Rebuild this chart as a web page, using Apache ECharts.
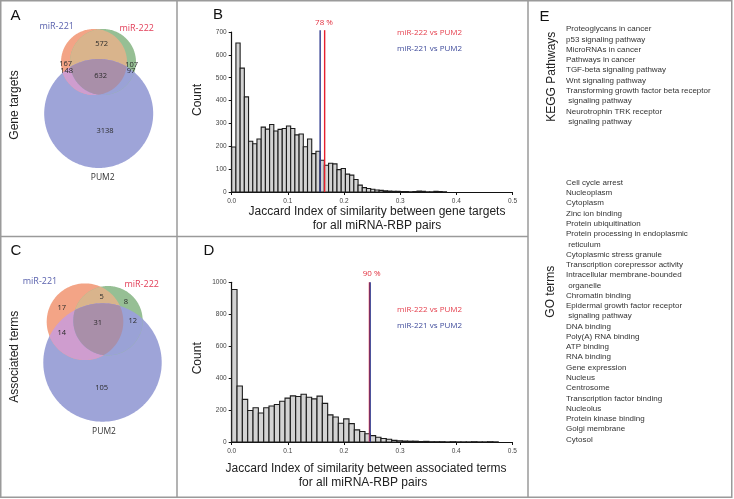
<!DOCTYPE html>
<html><head><meta charset="utf-8">
<script src="https://cdn.jsdelivr.net/npm/echarts@6/dist/echarts.min.js"></script>
<style>html,body{margin:0;padding:0;background:#fff}#c{width:734px;height:499px}</style>
</head><body><div id="c"></div>
<script>
// ---------------- DATA ----------------
const histXTicks = [0, 0.1, 0.2, 0.3, 0.4, 0.5];
const binWidthB = 0.0075;
const countsB = [197,652,542,416,222,211,232,284,275,295,267,274,278,289,278,250,254,198,232,168,178,139,117,126,123,98,103,78,74,55,30,19,15,12,9,7,5,4,3,3,2,2,1,2,4,3,1,1,3,2,1,0,0,0,0,0,0,0,0,0,0,0,0,0,0,0,0];
const binWidthD = 0.0095;
const countsD = [955,351,267,197,214,182,214,225,235,255,275,289,285,299,280,270,287,242,170,157,117,145,115,76,66,52,40,30,22,17,10,8,6,5,5,3,4,2,2,2,1,2,1,1,1,2,1,1,2,1,0,0,0];
const refLinesB = [0.1655, 0.1575];   // miR-222 vs PUM2, miR-221 vs PUM2
const refLinesD = [0.2455, 0.2467];
const pctB = '78 %';
const pctD = '90 %';
const legendNames = ['miR-222 vs PUM2', 'miR-221 vs PUM2'];
const yMaxB = 700, yMaxD = 1000;

const vennSetNames = ['miR-221', 'miR-222', 'PUM2'];
// regions: 221 only, 222 only, 221&222, 221&PUM2, 222&PUM2, all three, PUM2 only
const vennCountsA = [167, 107, 572, 148, 97, 632, 3138];
const vennCountsC = [17, 8, 5, 14, 12, 31, 105];

const keggTerms = ['Proteoglycans in cancer','p53 signaling pathway','MicroRNAs in cancer','Pathways in cancer','TGF-beta signaling pathway','Wnt signaling pathway','Transforming growth factor beta receptor',' signaling pathway','Neurotrophin TRK receptor',' signaling pathway'];
const goTerms = ['Cell cycle arrest','Nucleoplasm','Cytoplasm','Zinc ion binding','Protein ubiquitination','Protein processing in endoplasmic',' reticulum','Cytoplasmic stress granule','Transcription corepressor activity','Intracellular membrane-bounded',' organelle','Chromatin binding','Epidermal growth factor receptor',' signaling pathway','DNA binding','Poly(A) RNA binding','ATP binding','RNA binding','Gene expression','Nucleus','Centrosome','Transcription factor binding','Nucleolus','Protein kinase binding','Golgi membrane','Cytosol'];

// ---------------- LAYOUT / STYLE ----------------
const FONT = 'Liberation Sans, Arial, sans-serif';
const VFONT = 'Open Sans, Liberation Sans, sans-serif';
const vennLayout = {
  A: { circles: { o: [94, 62, 33], g: [103, 62, 33], b: [98.7, 113.5, 54.5] },
       labels: [[65.7,64.3],[131.7,65.2],[101.7,44.3],[66.7,70.9],[131,71],[100.7,76],[105,131]],
       names: [[56.7,26.7],[136.7,28.3],[102.7,177.7]] },
  C: { circles: { o: [85, 321.7, 38.3], g: [108, 320.7, 34.7], b: [102.5, 362.5, 59.2] },
       labels: [[61.7,308.3],[126,301.7],[101.7,296.7],[61.7,333.3],[132.7,320.7],[97.7,323.3],[101.7,388.3]],
       names: [[40,281.7],[141.7,284.3],[104,431.7]] }
};
const vennColors = { o: '#f3a486', g: '#96bf94', b: '#9ea4d8', og: '#d9b48c', ob: '#cf9dcf', gb: '#9aa2d6', ogb: '#a98fa9' };
const nameColors = ['#5a62ad', '#e23e58', '#333333'];

function circlePoly(c, n) {
  const pts = [];
  for (let i = 0; i < n; i++) { const t = 2 * Math.PI * i / n; pts.push([c[0] + c[2] * Math.cos(t), c[1] + c[2] * Math.sin(t)]); }
  return pts;
}
function clipPoly(subject, clip) {
  let out = subject;
  const cross = (A, B, p) => (B[0]-A[0])*(p[1]-A[1]) - (B[1]-A[1])*(p[0]-A[0]);
  for (let i = 0; i < clip.length && out.length; i++) {
    const A = clip[i], B = clip[(i+1) % clip.length];
    const inp = out; out = [];
    for (let j = 0; j < inp.length; j++) {
      const P = inp[j], Q = inp[(j+1) % inp.length];
      const pin = cross(A,B,P) >= 0, qin = cross(A,B,Q) >= 0;
      if (pin) out.push(P);
      if (pin !== qin) {
        const d1 = cross(A,B,P), d2 = cross(A,B,Q); const t = d1 / (d1 - d2);
        out.push([P[0] + t*(Q[0]-P[0]), P[1] + t*(Q[1]-P[1])]);
      }
    }
  }
  return out;
}
function vennShapes(L) {
  const N = 240;
  const O = circlePoly(L.circles.o, N), G = circlePoly(L.circles.g, N), B = circlePoly(L.circles.b, N);
  return [
    { pts: B, fill: vennColors.b }, { pts: O, fill: vennColors.o }, { pts: G, fill: vennColors.g },
    { pts: clipPoly(O, G), fill: vennColors.og }, { pts: clipPoly(O, B), fill: vennColors.ob },
    { pts: clipPoly(G, B), fill: vennColors.gb }, { pts: clipPoly(clipPoly(O, G), B), fill: vennColors.ogb }
  ];
}

function vennSeries(key, gi, counts) {
  const L = vennLayout[key];
  const shapes = vennShapes(L);
  return [
    { type: 'custom', xAxisIndex: gi, yAxisIndex: gi, silent: true,
      data: shapes.map((s, i) => [i]),
      renderItem: (p, api) => { const s = shapes[api.value(0)];
        return { type: 'polygon', shape: { points: s.pts.map(q => api.coord(q)) }, style: { fill: s.fill, stroke: null } }; } },
    { type: 'custom', xAxisIndex: gi, yAxisIndex: gi, silent: true,
      data: counts.map((c, i) => [i, c]),
      renderItem: (p, api) => { const i = api.value(0); const pt = api.coord(L.labels[i]);
        return { type: 'text', x: pt[0], y: pt[1], style: { text: String(counts[i]), fill: '#2a2a2a', font: '7.5px ' + VFONT, align: 'center', verticalAlign: 'middle' } }; } },
    { type: 'custom', xAxisIndex: gi, yAxisIndex: gi, silent: true,
      data: vennSetNames.map((n, i) => [i]),
      renderItem: (p, api) => { const i = api.value(0); const pt = api.coord(L.names[i]);
        return { type: 'text', x: pt[0], y: pt[1], style: { text: vennSetNames[i], fill: nameColors[i], font: (i === 2 ? '8.5px ' : '9px ') + VFONT, align: 'center', verticalAlign: 'middle' } }; } }
  ];
}

function histSeries(gi, counts, bw) {
  return { type: 'custom', xAxisIndex: gi, yAxisIndex: gi, silent: true,
    data: counts.map((c, i) => [i * bw, c]),
    encode: { x: 0, y: 1 },
    renderItem: (p, api) => {
      const v = api.value(1); if (!v) return null;
      const a = api.coord([api.value(0), v]); const b = api.coord([api.value(0) + bw, 0]);
      return { type: 'rect', shape: { x: a[0], y: a[1], width: b[0] - a[0], height: b[1] - a[1] },
        style: { fill: '#d3d3d3', stroke: '#1c1c1c', lineWidth: 1.1 } };
    } };
}
const lineColors = ['#e5202e', '#2e3a8f'];
function refLineSeries(gi, xs, top) {
  return { type: 'custom', xAxisIndex: gi, yAxisIndex: gi, silent: true, clip: false,
    data: xs.map((x, i) => [x, top, i]),
    renderItem: (p, api) => { const a = api.coord([api.value(0), 0]); const b = api.coord([api.value(0), api.value(1)]);
      return { type: 'line', shape: { x1: a[0], y1: a[1], x2: b[0], y2: b[1] }, style: { stroke: lineColors[api.value(2)], lineWidth: 1.4 } }; } };
}

function histX(gi) {
  return { gridIndex: gi, type: 'value', min: 0, max: 0.5, interval: 0.1,
    axisLine: { lineStyle: { color: '#111', width: 1.2 } },
    axisTick: { show: true, length: 3, lineStyle: { color: '#111', width: 1 } },
    axisLabel: { fontSize: 6.5, color: '#444', fontFamily: FONT, margin: 6, formatter: v => v.toFixed(1) },
    splitLine: { show: false } };
}
function histY(gi, max, interval) {
  return { gridIndex: gi, type: 'value', min: 0, max: max, interval: interval,
    axisLine: { show: true, lineStyle: { color: '#111', width: 1.2 } },
    axisTick: { show: true, length: 3, lineStyle: { color: '#111', width: 1 } },
    axisLabel: { fontSize: 6.5, color: '#444', fontFamily: FONT, margin: 5, formatter: v => String(v) },
    splitLine: { show: false } };
}

// text graphics
const gtext = (x, y, text, font, fill, align) => ({ type: 'text', x: x, y: y, silent: true,
  style: { text: text, font: font, fill: fill, align: align || 'center', verticalAlign: 'middle' } });
const vtext = (x, y, text, font) => ({ type: 'text', x: x, y: y, rotation: Math.PI / 2, silent: true,
  style: { text: text, font: font, fill: '#222', align: 'center', verticalAlign: 'middle' } });

const graphics = [
  { type: 'rect', silent: true, shape: { x: 0.75, y: 0.75, width: 731, height: 496.5 }, style: { fill: null, stroke: '#9a9a9a', lineWidth: 1.5 } },
  { type: 'line', silent: true, shape: { x1: 177, y1: 0, x2: 177, y2: 497 }, style: { stroke: '#9a9a9a', lineWidth: 1.5 } },
  { type: 'line', silent: true, shape: { x1: 528, y1: 0, x2: 528, y2: 497 }, style: { stroke: '#9a9a9a', lineWidth: 1.5 } },
  { type: 'line', silent: true, shape: { x1: 0, y1: 236.5, x2: 528, y2: 236.5 }, style: { stroke: '#9a9a9a', lineWidth: 1.5 } },
  gtext(15.5, 15.5, 'A', '15px ' + FONT, '#111'),
  gtext(218, 14.5, 'B', '15px ' + FONT, '#111'),
  gtext(16, 251, 'C', '15px ' + FONT, '#111'),
  gtext(209, 251, 'D', '15px ' + FONT, '#111'),
  gtext(544.5, 16.5, 'E', '15px ' + FONT, '#111'),
  vtext(15, 105, 'Gene targets', '12px ' + FONT),
  vtext(15, 356.7, 'Associated terms', '12px ' + FONT),
  vtext(198, 100, 'Count', '12px ' + FONT),
  vtext(198, 358.3, 'Count', '12px ' + FONT),
  vtext(551.7, 76.7, 'KEGG Pathways', '12px ' + FONT),
  vtext(550.7, 291.7, 'GO terms', '12px ' + FONT),
  gtext(377, 212, 'Jaccard Index of similarity between gene targets', '12px ' + FONT, '#222'),
  gtext(377, 226, 'for all miRNA-RBP pairs', '12px ' + FONT, '#222'),
  gtext(366, 468.3, 'Jaccard Index of similarity between associated terms', '12px ' + FONT, '#222'),
  gtext(363, 482.3, 'for all miRNA-RBP pairs', '12px ' + FONT, '#222'),
  gtext(324, 22.7, pctB, '8px ' + VFONT, '#e2303f'),
  gtext(371.7, 274, pctD, '8px ' + VFONT, '#e2303f'),
  gtext(397, 32.7, legendNames[0], '8px ' + VFONT, '#e5404e', 'left'),
  gtext(397, 48.3, legendNames[1], '8px ' + VFONT, '#3f4b9b', 'left'),
  gtext(397, 310, legendNames[0], '8px ' + VFONT, '#e5404e', 'left'),
  gtext(397, 326, legendNames[1], '8px ' + VFONT, '#3f4b9b', 'left')
];
keggTerms.forEach((t, i) => graphics.push(gtext(566, 29 + i * 10.3, t, '8px ' + FONT, '#333', 'left')));
goTerms.forEach((t, i) => graphics.push(gtext(566, 182.7 + i * 10.27, t, '8px ' + FONT, '#333', 'left')));

const hiddenAxis = (gi, min, max, inv) => ({ gridIndex: gi, type: 'value', min: min, max: max, inverse: !!inv, show: false, splitLine: { show: false } });

const option = {
  animation: false,
  backgroundColor: '#fff',
  grid: [
    { left: 0, top: 0, width: 177, height: 236 },
    { left: 231.7, top: 32, width: 280.8, height: 160 },
    { left: 0, top: 236, width: 177, height: 261 },
    { left: 231.7, top: 282.3, width: 280.6, height: 159.7 }
  ],
  xAxis: [ hiddenAxis(0, 0, 177), histX(1), hiddenAxis(2, 0, 177), histX(3) ],
  yAxis: [ hiddenAxis(0, 0, 236, true), histY(1, yMaxB, 100), hiddenAxis(2, 236, 497, true), histY(3, yMaxD, 200) ],
  series: [].concat(
    vennSeries('A', 0, vennCountsA),
    vennSeries('C', 2, vennCountsC),
    [histSeries(1, countsB, binWidthB), refLineSeries(1, refLinesB, 708),
     histSeries(3, countsD, binWidthD), refLineSeries(3, refLinesD, 1000)]
  ),
  graphic: { elements: graphics }
};
const chart = echarts.init(document.getElementById('c'), null, { renderer: 'canvas' });
chart.setOption(option);
</script>
</body></html>
